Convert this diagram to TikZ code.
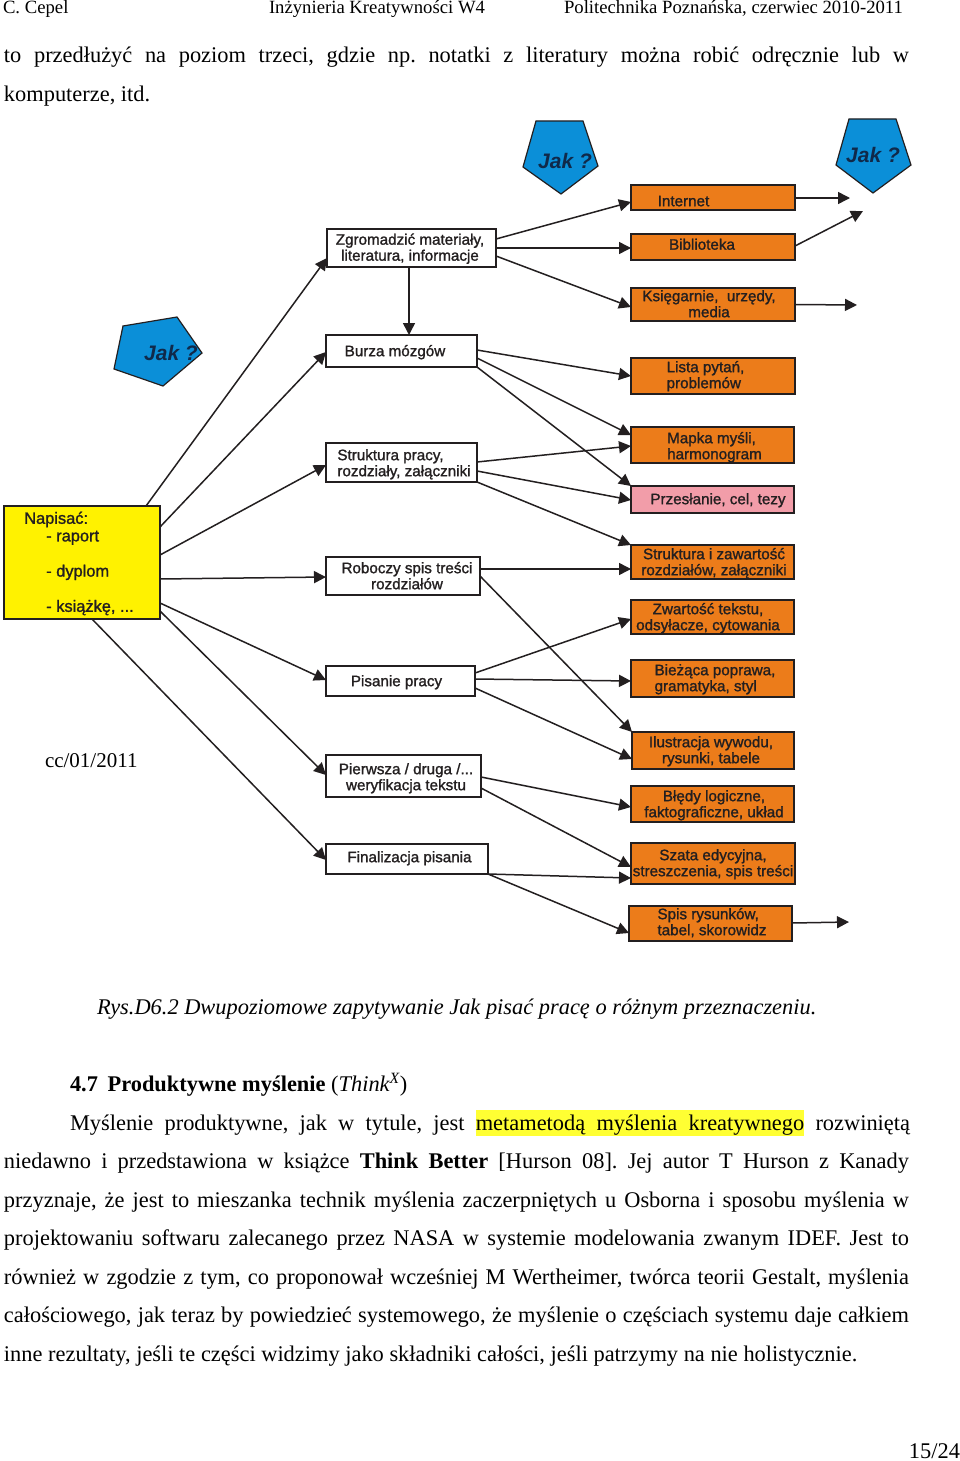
\documentclass[tikz,border=0pt]{standalone}
\usepackage{fontspec}
\setmainfont{Liberation Serif}
\newfontfamily\dgfont[FakeBold=1.3]{Liberation Sans}
\usetikzlibrary{arrows.meta}
\frenchspacing
\definecolor{dk}{HTML}{231F20}
\definecolor{orng}{HTML}{EC7C1A}
\definecolor{pnk}{HTML}{F29DA9}
\definecolor{yel}{HTML}{FFF200}
\definecolor{blu}{HTML}{0B8FD8}
\definecolor{jakc}{HTML}{10294A}
\definecolor{hilite}{HTML}{FFFF33}
\tikzset{
  basebox/.style={draw=dk,line width=1.7pt,inner sep=0pt,outer sep=0pt,text=dk},
  whitebox/.style={basebox,fill=white},
  orangebox/.style={basebox,fill=orng},
  pinkbox/.style={basebox,fill=pnk},
  yellowbox/.style={basebox,fill=yel},
  arr/.style={draw=dk,line width=1.5pt,-{Triangle[length=12pt,width=12pt]}},
  pent/.style={draw=dk,line width=1.2pt,fill=blu,line join=miter},
  jak/.style={text=jakc,inner sep=0pt,font=\fontsize{21}{21}\selectfont\sffamily\bfseries\itshape},
  doc/.style={anchor=base west,inner sep=0pt,outer sep=0pt,font=\fontsize{22.4}{26}\selectfont},
  hdr/.style={anchor=base west,inner sep=0pt,outer sep=0pt,font=\fontsize{18.7}{22}\selectfont},
}
\setsansfont{Liberation Sans}
% style, name, x0, y0, x1, y1, text centre x, text centre y, text
\newcommand{\bx}[9]{%
  \pgfmathsetmacro{\txdx}{2*(#7-(#3+#5)/2)}%
  \pgfmathsetmacro{\txdy}{(#4+#6)/2-#8-5.6}%
  \pgfmathsetmacro{\bxw}{#5-#3}%
  \pgfmathsetmacro{\bxh}{#6-#4}%
  \node[#1,minimum width=\bxw pt,minimum height=\bxh pt] (#2) at ({(#3+#5)/2},{(#4+#6)/2})
    {\raisebox{\txdy pt}[0pt][0pt]{\makebox[0pt][c]{\hspace*{\txdx pt}\dgfont #9}}};%
}
\newcommand{\ct}[1]{\fontsize{15.2}{16}\selectfont\begin{tabular}{@{}c@{}}#1\end{tabular}}
\newcommand{\lt}[1]{\fontsize{15.2}{16}\selectfont\begin{tabular}{@{}l@{}}#1\end{tabular}}
\begin{document}
\begin{tikzpicture}[x=1pt,y=-1pt]
\useasboundingbox[fill=white] (0,0) rectangle (960,1461);

% header and text above the diagram
\node[hdr] (h1) at (3,13.5) {C. Cepel};
\node[hdr] (h2) at (269,13.5) {Inżynieria Kreatywności W4};
\node[hdr] (h3) at (564,13.5) {Politechnika Poznańska, czerwiec 2010-2011};
\node[doc] (t1) at (4,63) {\makebox[905pt][s]{to przedłużyć na poziom trzeci, gdzie np. notatki z literatury można robić odręcznie lub w}};
\node[doc] (t2) at (4,102) {komputerze, itd.};

% pentagons
\draw[pent] (536,121) -- (583,121) -- (598,166) -- (561,194) -- (523,167) -- cycle;
\node[jak] (j1) at (565,161) {Jak ?};
\draw[pent] (849,119) -- (896,119) -- (911,165) -- (873,193) -- (836,165) -- cycle;
\node[jak] (j2) at (873,155) {Jak ?};
\draw[pent] (123,326) -- (177,317) -- (202,353) -- (163,386) -- (114,369) -- cycle;
\node[jak] (j3) at (171,352.5) {Jak ?};

% left boxes
\bx{yellowbox}{nap}{4}{506}{160}{619}{90}{563}{\fontsize{16.4}{17.6}\selectfont\begin{tabular}{@{}l@{}}\hspace*{-22pt}Napisać:\\- raport\\[0pt]\\- dyplom\\\\- książkę, ...\end{tabular}}
% middle boxes
\bx{whitebox}{zgr}{327}{229}{496}{267}{410}{247.5}{\ct{Zgromadzić materiały,\\literatura, informacje}}
\bx{whitebox}{bur}{326}{335}{477}{367}{395}{351}{\ct{Burza mózgów}}
\bx{whitebox}{str}{326}{443}{477}{482}{404}{463}{\lt{Struktura pracy,\\rozdziały, załączniki}}
\bx{whitebox}{rob}{326}{557}{480}{595}{407}{576}{\ct{Roboczy spis treści\\rozdziałów}}
\bx{whitebox}{pis}{326}{666}{475}{696}{396.5}{681}{\ct{Pisanie pracy}}
\bx{whitebox}{pie}{326}{755}{481}{797}{406}{777}{\ct{Pierwsza / druga /...\\weryfikacja tekstu}}
\bx{whitebox}{fin}{326}{844}{488}{874}{409.5}{857}{\ct{Finalizacja pisania}}
% right boxes
\bx{orangebox}{int}{631}{185}{795}{210}{683.5}{201}{\ct{Internet}}
\bx{orangebox}{bib}{631}{234}{795}{260}{702}{244.5}{\ct{Biblioteka}}
\bx{orangebox}{ksi}{631}{288}{795}{321}{709}{304}{\ct{Księgarnie,\ \ urzędy,\\media}}
\bx{orangebox}{lis}{631}{358}{795}{394}{705.5}{375}{\lt{Lista pytań,\\problemów}}
\bx{orangebox}{map}{631}{427}{794}{463}{714.5}{446}{\lt{Mapka myśli,\\harmonogram}}
\bx{pinkbox}{prz}{631}{486}{794}{513}{718}{499}{\ct{Przesłanie, cel, tezy}}
\bx{orangebox}{sti}{631}{545}{794}{579}{714}{562}{\ct{Struktura i zawartość\\rozdziałów, załączniki}}
\bx{orangebox}{zwa}{631}{600}{794}{634}{708}{617}{\ct{Zwartość tekstu,\\odsyłacze, cytowania}}
\bx{orangebox}{bie}{631}{660}{794}{697}{715}{678}{\lt{Bieżąca poprawa,\\gramatyka, styl}}
\bx{orangebox}{ilu}{632}{732}{794}{769}{711}{750}{\ct{Ilustracja wywodu,\\rysunki, tabele}}
\bx{orangebox}{ble}{631}{786}{794}{822}{714}{804}{\ct{Błędy logiczne,\\faktograficzne, układ}}
\bx{orangebox}{sza}{631}{843}{795}{884}{713}{863}{\ct{Szata edycyjna,\\streszczenia, spis treści}}
\bx{orangebox}{spi}{629}{906}{792}{941}{712}{922}{\lt{Spis rysunków,\\tabel, skorowidz}}

% free arrow ends
\coordinate (e1) at (850,198);
\coordinate (e2) at (863,211);
\coordinate (e3) at (857,305);
\coordinate (e4) at (849,922);

% connectors
\draw[arr] (nap.north -| 146,0) -- (zgr.west |- 0,258);
\draw[arr] (nap.east |- 0,527) -- (bur.west |- 0,352);
\draw[arr] (nap.east |- 0,555) -- (str.west |- 0,465);
\draw[arr] (nap.east |- 0,579) -- (rob.west |- 0,577);
\draw[arr] (nap.east |- 0,603) -- (pis.west |- 0,680);
\draw[arr] (nap.east |- 0,611) -- (pie.west |- 0,775);
\draw[arr] (nap.south -| 92,0) -- (fin.west |- 0,860);
\draw[arr] (zgr.south -| 409,0) -- (bur.north -| 409,0);
\draw[arr] (zgr.east |- 0,239) -- (int.west |- 0,202);
\draw[arr] (zgr.east |- 0,248) -- (bib.west |- 0,248);
\draw[arr] (zgr.east |- 0,256) -- (ksi.west |- 0,307);
\draw[arr] (int.east |- 0,198) -- (e1);
\draw[arr] (bib.east |- 0,246) -- (e2);
\draw[arr] (ksi.east |- 0,304.5) -- (e3);
\draw[arr] (bur.east |- 0,350) -- (lis.west |- 0,376);
\draw[arr] (bur.east |- 0,358) -- (map.west |- 0,435);
\draw[arr] (bur.south east) -- (prz.north west);
\draw[arr] (str.east |- 0,462) -- (map.west |- 0,446);
\draw[arr] (str.east |- 0,471) -- (prz.west |- 0,500);
\draw[arr] (str.south east) -- (sti.north west);
\draw[arr] (rob.east |- 0,569) -- (sti.west |- 0,569);
\draw[arr] (rob.east |- 0,576) -- (ilu.north west);
\draw[arr] (pis.east |- 0,673) -- (zwa.west |- 0,619);
\draw[arr] (pis.east |- 0,679) -- (bie.west |- 0,681);
\draw[arr] (pis.east |- 0,688) -- (ilu.west |- 0,759);
\draw[arr] (pie.east |- 0,777) -- (ble.west |- 0,807);
\draw[arr] (pie.east |- 0,788) -- (sza.west |- 0,867);
\draw[arr] (fin.south east) -- (sza.west |- 0,878);
\draw[arr] (fin.south east) -- (spi.west |- 0,933);
\draw[arr] (spi.east |- 0,923) -- (e4);

% text below the diagram
\node[doc,font=\fontsize{21}{25}\selectfont] (cc) at (45,767) {cc/01/2011};
\node[doc] (cap) at (97,1014) {\textit{Rys.D6.2 Dwupoziomowe zapytywanie Jak pisać pracę o różnym przeznaczeniu.}};
\node[doc] (hd) at (70,1091) {\textbf{4.7\hspace{4pt} Produktywne myślenie} (\textit{Think\textsuperscript{X}})};
\fill[hilite] (476,1110) rectangle (804,1136);
\node[doc] (b1) at (70,1130) {\makebox[840pt][s]{Myślenie produktywne, jak w tytule, jest metametodą myślenia kreatywnego rozwiniętą}};
\node[doc] (b2) at (4,1168) {\makebox[905pt][s]{niedawno i przedstawiona w książce \textbf{Think Better} [Hurson 08]. Jej autor T Hurson z Kanady}};
\node[doc] (b3) at (4,1207) {\makebox[905pt][s]{przyznaje, że jest to mieszanka technik myślenia zaczerpniętych u Osborna i sposobu myślenia w}};
\node[doc] (b4) at (4,1245) {\makebox[905pt][s]{projektowaniu softwaru zalecanego przez NASA w systemie modelowania zwanym IDEF. Jest to}};
\node[doc] (b5) at (4,1284) {\makebox[905pt][s]{również w zgodzie z tym, co proponował wcześniej M Wertheimer, twórca teorii Gestalt, myślenia}};
\node[doc] (b6) at (4,1322) {\makebox[905pt][s]{całościowego, jak teraz by powiedzieć systemowego, że myślenie o częściach systemu daje całkiem}};
\node[doc] (b7) at (4,1361) {inne rezultaty, jeśli te części widzimy jako składniki całości, jeśli patrzymy na nie holistycznie.};
\node[doc,anchor=base east] (pg) at (960,1458) {15/24};
\end{tikzpicture}
\end{document}
